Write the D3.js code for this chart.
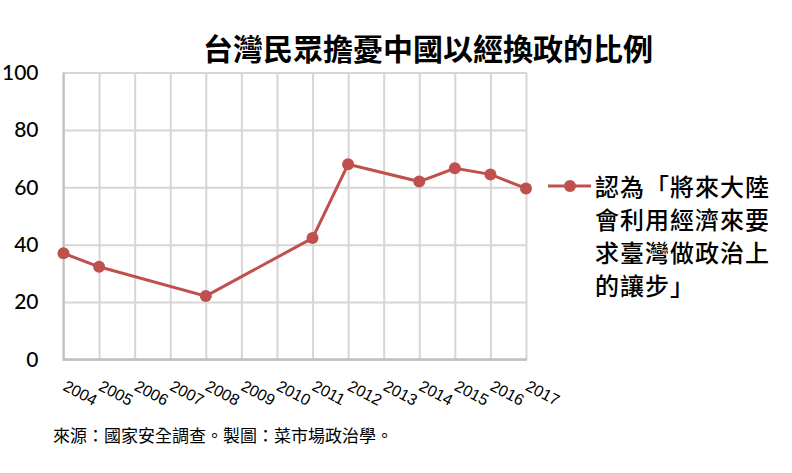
<!DOCTYPE html>
<html>
<head>
<meta charset="utf-8">
<script src="https://cdn.jsdelivr.net/npm/d3@7"></script>
<style>
body{margin:0;background:#fff;}
</style>
</head>
<body>
<div id="chart"></div>
<script>
var years = ["2004","2005","2006","2007","2008","2009","2010","2011","2012","2013","2014","2015","2016","2017"];
var values = [37, 32.3, null, null, 22.1, null, null, 42.3, 68, null, 62, 66.6, 64.5, 59.6];
var yTicks = [0, 20, 40, 60, 80, 100];
var title = "台灣民眾擔憂中國以經換政的比例";
var legendLines = ["認為「將來大陸", "會利用經濟來要", "求臺灣做政治上", "的讓步」"];
var source = "來源：國家安全調查。製圖：菜市場政治學。";

var w = 792;
var h = 473;
// note: "top" clashes with window.top, so plot edges get a prefix
var pLeft = 63.5, pRight = 526, pTop = 72.5, pBottom = 359.5;
var red = "#c0504d";
var cjk = "'Noto Sans CJK TC','Noto Sans CJK SC',sans-serif";

var svg = d3.select("#chart")
.append("svg")
.attr("width", w)
.attr("height", h);

var x = d3.scalePoint()
.domain(years)
.range([pLeft, pRight]);

var y = d3.scaleLinear()
.domain([0, 100])
.range([pBottom, pTop]);

// grid + y labels
var yAxis = svg.append("g")
.attr("transform", "translate(" + pLeft + ",0)")
.call(d3.axisLeft(y).tickValues(yTicks).tickSize(-(pRight - pLeft)).tickPadding(25));
yAxis.select(".domain").remove();
yAxis.selectAll("line").attr("stroke", "#d6d6d6").attr("stroke-width", 2);
yAxis.selectAll("text")
.attr("font-family", "Lato, sans-serif")
.attr("font-size", 21)
.attr("font-weight", 500)
.attr("fill", "#000");

var xAxis = svg.append("g")
.attr("transform", "translate(0," + pBottom + ")")
.call(d3.axisBottom(x).tickSize(-(pBottom - pTop)));
xAxis.select(".domain").remove();
xAxis.selectAll("line").attr("stroke", "#d6d6d6").attr("stroke-width", 2);
xAxis.selectAll("text")
.attr("x", 0)
.attr("y", 0)
.attr("dy", 0)
.attr("text-anchor", "start")
.attr("transform", "translate(-2,30) rotate(28)")
.attr("font-family", "'Liberation Sans', sans-serif")
.attr("font-size", 16)
.attr("fill", "#000");

// axis lines
svg.append("line")
.attr("x1", pLeft).attr("x2", pLeft)
.attr("y1", pTop).attr("y2", pBottom + 1)
.attr("stroke", "#bfbfbf").attr("stroke-width", 2);
svg.append("line")
.attr("x1", pLeft - 1).attr("x2", pRight + 1)
.attr("y1", pBottom).attr("y2", pBottom)
.attr("stroke", "#bfbfbf").attr("stroke-width", 2.5);

// series (gaps are joined)
var pts = years.map(function(d, i){ return {year: d, value: values[i]}; })
.filter(function(d){ return d.value != null; });

var line = d3.line()
.x(function(d){ return x(d.year); })
.y(function(d){ return y(d.value); });

svg.append("path")
.datum(pts)
.attr("d", line)
.attr("fill", "none")
.attr("stroke", red)
.attr("stroke-width", 3);

svg.selectAll("circle.pt")
.data(pts)
.enter()
.append("circle")
.attr("class", "pt")
.attr("cx", function(d){ return x(d.year); })
.attr("cy", function(d){ return y(d.value); })
.attr("r", 6)
.attr("fill", red);

// title
svg.append("text")
.attr("x", 428)
.attr("y", 60)
.attr("text-anchor", "middle")
.attr("font-family", cjk)
.attr("font-size", 30)
.attr("font-weight", 700)
.attr("fill", "#000")
.text(title);

// legend
svg.append("line")
.attr("x1", 548).attr("x2", 591)
.attr("y1", 186).attr("y2", 186)
.attr("stroke", red).attr("stroke-width", 3);
svg.append("circle")
.attr("cx", 570).attr("cy", 186).attr("r", 6)
.attr("fill", red);

svg.selectAll("text.leg")
.data(legendLines)
.enter()
.append("text")
.attr("class", "leg")
.attr("x", 595)
.attr("y", function(d, i){ return 196 + i * 33; })
.attr("font-family", cjk)
.attr("font-size", 24)
.attr("font-weight", 500)
.attr("letter-spacing", 1)
.attr("fill", "#000")
.text(function(d){ return d; });

// source
svg.append("text")
.attr("x", 53)
.attr("y", 442)
.attr("font-family", cjk)
.attr("font-size", 17)
.attr("fill", "#000")
.text(source);
</script>
</body>
</html>
